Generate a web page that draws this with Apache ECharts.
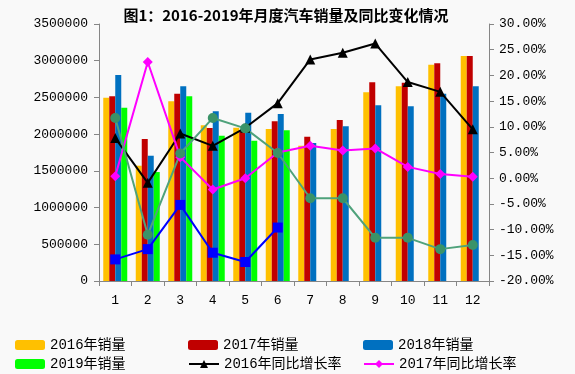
<!DOCTYPE html>
<html><head><meta charset="utf-8">
<script src="https://cdn.jsdelivr.net/npm/echarts@6/dist/echarts.min.js"></script>
<style>html,body{margin:0;padding:0;background:#f9f9f9}#c{width:575px;height:374px}</style>
</head><body><div id="c"></div>
<script>
const months = ['1','2','3','4','5','6','7','8','9','10','11','12'];
const sales2016 = [2496000,1570000,2447000,2120000,2088000,2070000,1843000,2070000,2570000,2651000,2946000,3064000];
const sales2017 = [2515000,1934000,2551000,2084000,2057000,2175000,1966000,2193000,2706000,2701000,2965000,3064000];
const sales2018 = [2805000,1706000,2651000,2311000,2292000,2274000,1879000,2106000,2393000,2379000,2551000,2651000];
const sales2019 = [2360000,1484000,2515000,1979000,1911000,2052000,null,null,null,null,null,null];
const growth2016 = [7.8,-0.9,8.7,6.3,9.8,14.6,23.1,24.4,26.2,18.7,16.8,9.5];
const growth2017 = [0.4,22.6,4.1,-2.2,0.0,5.0,6.3,5.4,5.8,2.2,0.8,0.3];
const growth2018 = [11.7,-11.0,4.8,11.7,9.7,4.9,-3.9,-3.9,-11.6,-11.6,-13.8,-13.0];
const growth2019 = [-15.8,-13.8,-5.2,-14.5,-16.3,-9.6,null,null,null,null,null,null];
const leftTicks = {min:0,max:3500000,interval:500000};
const rightTicks = {min:-20,max:30,interval:5};
const legendItems = [
  ['2016年销量',10,333],['2017年销量',183,333],['2018年销量',358,333],
  ['2019年销量',10,352],['2016年同比增长率',183,352],['2017年同比增长率',358,352]
];

const font = "'Liberation Mono', 'Noto Sans CJK SC', monospace";
const chart = echarts.init(document.getElementById('c'), null, {renderer:'canvas'});
const bar = (name, data, color) => ({name, type:'bar', data, barWidth:6, barGap:'0%', itemStyle:{color}, yAxisIndex:0});
const line = (name, data, color, symbol, size, lineColor) => ({name, type:'line', data, yAxisIndex:1, symbol, symbolSize:size,
  lineStyle:{color: lineColor||color, width:2}, itemStyle:{color}, z:5});
chart.setOption({
  backgroundColor:'#f9f9f9',
  animation:false,
  title:{text:'图1：2016-2019年月度汽车销量及同比变化情况', left:281, textAlign:'center', top:3,
    textStyle:{fontFamily:"'Noto Sans CJK SC', sans-serif", fontSize:15, fontWeight:'bold', color:'#000'}},
  grid:{left:99, right:86, top:24, bottom:93},
  legend: legendItems.map(([n,l,t]) => ({left:l, top:t, itemWidth:30, itemHeight:10, itemGap:0, data:[n],
     textStyle:{fontFamily:font, fontSize:14, color:'#000'}})),
  xAxis:{type:'category', data:months, boundaryGap:true,
    axisLine:{lineStyle:{color:'#868686'}}, axisTick:{show:true, alignWithLabel:false, lineStyle:{color:'#868686'}},
    axisLabel:{fontFamily:font, fontSize:13, color:'#000', margin:13}},
  yAxis:[
    {type:'value', min:leftTicks.min, max:leftTicks.max, interval:leftTicks.interval,
     axisLine:{show:true, lineStyle:{color:'#868686'}}, axisTick:{show:true, lineStyle:{color:'#868686'}},
     splitLine:{show:false}, axisLabel:{fontFamily:font, fontSize:13, color:'#000', margin:11, formatter:v=>String(v)}},
    {type:'value', min:rightTicks.min, max:rightTicks.max, interval:rightTicks.interval,
     axisLine:{show:true, lineStyle:{color:'#868686'}}, axisTick:{show:true, lineStyle:{color:'#868686'}},
     splitLine:{show:false}, axisLabel:{fontFamily:font, fontSize:13, color:'#000', margin:10, formatter:v=>v.toFixed(2)+'%'}}
  ],
  series:[
    bar('2016年销量', sales2016, '#FFC000'),
    bar('2017年销量', sales2017, '#C00000'),
    bar('2018年销量', sales2018, '#0070C0'),
    bar('2019年销量', sales2019, '#00FF00'),
    line('2016年同比增长率', growth2016, '#000000', 'triangle', 10),
    line('2017年同比增长率', growth2017, '#FF00FF', 'diamond', 10),
    line('2018年同比增长率', growth2018, '#3A9368', 'circle', 10, '#4FA27B'),
    line('2019年同比增长率', growth2019, '#0000FF', 'rect', 10)
  ]
});
</script></body></html>
